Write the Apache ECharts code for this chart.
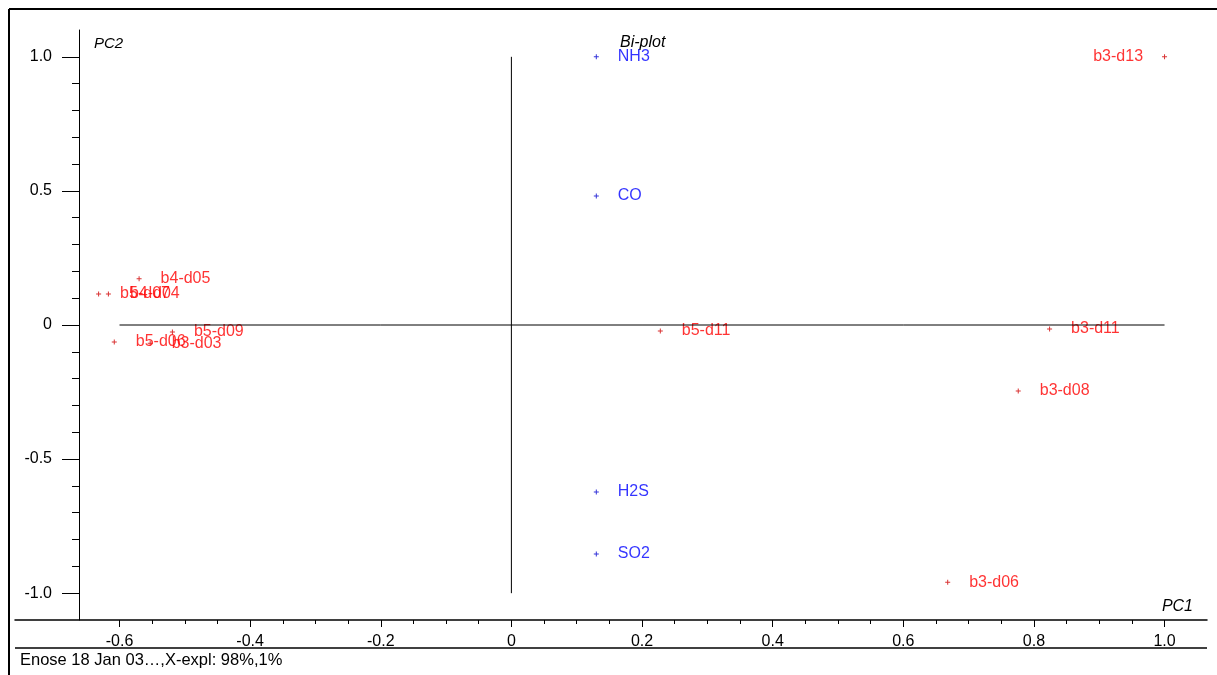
<!DOCTYPE html>
<html>
<head>
<meta charset="utf-8">
<title>Bi-plot</title>
<script src="https://cdn.jsdelivr.net/npm/echarts@6/dist/echarts.min.js"></script>
<style>
  html, body { margin: 0; padding: 0; background: #fff; }
  #chart { width: 1217px; height: 675px; }
</style>
</head>
<body>
<div id="chart"></div>
<script>
// Scores (samples) on PC1 / PC2
var sampleNames = ['b3-d13', 'b3-d11', 'b3-d08', 'b3-d06', 'b5-d11', 'b4-d05', 'b5-d07', 'b4-d04', 'b5-d06', 'b5-d09', 'b3-d03'];
var samplePC1   = [1.000, 0.824, 0.776, 0.668, 0.228, -0.570, -0.632, -0.617, -0.608, -0.519, -0.553];
var samplePC2   = [1.000, -0.015, -0.246, -0.959, -0.022, 0.172, 0.116, 0.116, -0.063, -0.026, -0.068];

// Loadings (sensors) on PC1 / PC2
var variableNames = ['NH3', 'CO', 'H2S', 'SO2'];
var variablePC1   = [0.130, 0.130, 0.130, 0.130];
var variablePC2   = [1.000, 0.481, -0.623, -0.854];

// Axis ticks
var xMajorTicks = [-0.6, -0.4, -0.2, 0, 0.2, 0.4, 0.6, 0.8, 1.0];
var xMinorTicks = [-0.55, -0.5, -0.45, -0.35, -0.3, -0.25, -0.15, -0.1, -0.05, 0.05, 0.1, 0.15, 0.25, 0.3, 0.35, 0.45, 0.5, 0.55, 0.65, 0.7, 0.75, 0.85, 0.9, 0.95];
var yMajorTicks = [-1.0, -0.5, 0, 0.5, 1.0];
var yMinorTicks = [-0.9, -0.8, -0.7, -0.6, -0.4, -0.3, -0.2, -0.1, 0.1, 0.2, 0.3, 0.4, 0.6, 0.7, 0.8, 0.9];

// Extent of the origin cross-hair lines
var crossX = [-0.6, 1.0];
var crossY = [-1.0, 1.0];

var FONT = 'Liberation Sans, Arial, sans-serif';
var PLUS = 'path://M2,0H3V2H5V3H3V5H2V3H0V2H2Z';

function fmt(v) {
  return v === 0 ? '0' : v.toFixed(1);
}

function pointData(names, xs, ys) {
  return names.map(function (n, i) {
    var item = { name: n, value: [xs[i], ys[i]] };
    // points at the far right edge carry their label on the left side
    if (xs[i] > 0.95) {
      item.label = { position: 'left' };
    }
    return item;
  });
}

var chart = echarts.init(document.getElementById('chart'), null, { renderer: 'canvas' });

var X_MIN = -0.76, X_MAX = 1.065, Y_MIN = -1.1, Y_MAX = 1.1;

chart.setOption({
  animation: false,
  backgroundColor: '#ffffff',
  grid: { left: 15, right: 10, top: 30, bottom: 55, containLabel: false },
  xAxis: [
    {
      type: 'value', min: X_MIN, max: X_MAX, position: 'bottom',
      splitLine: { show: false },
      axisLine: { show: true, onZero: false, lineStyle: { color: '#000', width: 1.5 } },
      axisTick: { show: true, inside: false, length: 7, customValues: xMajorTicks, lineStyle: { color: '#000', width: 1 } },
      axisLabel: { show: true, customValues: xMajorTicks, margin: 14, color: '#000', fontFamily: FONT, fontSize: 16, formatter: fmt, hideOverlap: false }
    },
    {
      type: 'value', min: X_MIN, max: X_MAX, position: 'bottom',
      splitLine: { show: false },
      axisLine: { show: false, onZero: false },
      axisTick: { show: true, inside: false, length: 4, customValues: xMinorTicks, lineStyle: { color: '#000', width: 1 } },
      axisLabel: { show: false }
    }
  ],
  yAxis: [
    {
      type: 'value', min: Y_MIN, max: Y_MAX, position: 'left', offset: -64,
      splitLine: { show: false },
      axisLine: { show: true, onZero: false, lineStyle: { color: '#000', width: 1 } },
      axisTick: { show: true, inside: false, length: 17, customValues: yMajorTicks, lineStyle: { color: '#000', width: 1 } },
      axisLabel: { show: true, customValues: yMajorTicks, margin: 27, color: '#000', fontFamily: FONT, fontSize: 16, formatter: fmt, hideOverlap: false }
    },
    {
      type: 'value', min: Y_MIN, max: Y_MAX, position: 'left', offset: -64,
      splitLine: { show: false },
      axisLine: { show: false, onZero: false },
      axisTick: { show: true, inside: false, length: 7, customValues: yMinorTicks, lineStyle: { color: '#000', width: 1 } },
      axisLabel: { show: false }
    }
  ],
  series: [
    {
      type: 'line', name: 'vertical', xAxisIndex: 0, yAxisIndex: 0,
      data: [[0, crossY[0]], [0, crossY[1]]],
      symbol: 'none', silent: true,
      lineStyle: { color: '#000', width: 1 }
    },
    {
      type: 'line', name: 'horizontal', xAxisIndex: 0, yAxisIndex: 0,
      data: [[crossX[0], 0], [crossX[1], 0]],
      symbol: 'none', silent: true,
      lineStyle: { color: '#000', width: 1 }
    },
    {
      type: 'scatter', name: 'Scores', xAxisIndex: 0, yAxisIndex: 0,
      data: pointData(sampleNames, samplePC1, samplePC2),
      symbol: PLUS, symbolSize: 5,
      itemStyle: { color: '#d00000' },
      label: {
        show: true, position: 'right', distance: 19,
        formatter: '{b}', color: '#ff0000', fontFamily: FONT, fontSize: 16
      },
      labelLayout: { hideOverlap: false }
    },
    {
      type: 'scatter', name: 'Loadings', xAxisIndex: 0, yAxisIndex: 0,
      data: pointData(variableNames, variablePC1, variablePC2),
      symbol: PLUS, symbolSize: 5,
      itemStyle: { color: '#0000d0' },
      label: {
        show: true, position: 'right', distance: 19,
        formatter: '{b}', color: '#0000ff', fontFamily: FONT, fontSize: 16
      },
      labelLayout: { hideOverlap: false }
    }
  ],
  graphic: [
    // outer frame (left and top edges)
    { type: 'line', shape: { x1: 9, y1: 9, x2: 9, y2: 675 }, style: { stroke: '#000', lineWidth: 2 } },
    { type: 'line', shape: { x1: 9, y1: 9, x2: 1217, y2: 9 }, style: { stroke: '#000', lineWidth: 2 } },
    // separator above the footer
    { type: 'line', shape: { x1: 15, y1: 648, x2: 1207, y2: 648 }, style: { stroke: '#000', lineWidth: 1.5 } },
    { type: 'text', left: 94, top: 36, style: { text: 'PC2', font: 'italic 15px ' + FONT, fill: '#000' } },
    { type: 'text', left: 620, top: 35, style: { text: 'Bi-plot', font: 'italic 16px ' + FONT, fill: '#000' } },
    { type: 'text', right: 24, top: 599, style: { text: 'PC1', font: 'italic 16px ' + FONT, fill: '#000' } },
    { type: 'text', left: 20, top: 652, style: { text: 'Enose 18 Jan 03…,X-expl: 98%,1%', font: '16.5px ' + FONT, fill: '#000' } }
  ]
});
</script>
</body>
</html>
